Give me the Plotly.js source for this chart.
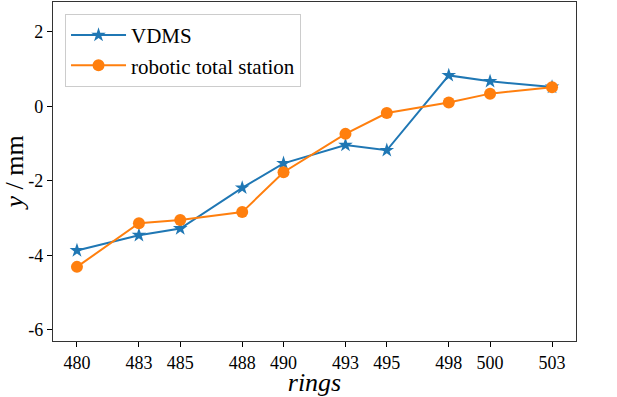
<!DOCTYPE html>
<html>
<head>
<meta charset="utf-8">
<script src="https://cdn.plot.ly/plotly-3.0.1.min.js"></script>
<style>html,body{margin:0;padding:0;background:#fff;}#chart{width:617px;height:397px;}</style>
</head>
<body>
<div id="chart"></div>
<script>
const rings = [480, 483, 485, 488, 490, 493, 495, 498, 500, 503];
const vdms = [-3.87, -3.46, -3.28, -2.19, -1.53, -1.04, -1.18, 0.83, 0.67, 0.52];
const robotic = [-4.31, -3.14, -3.05, -2.84, -1.77, -0.74, -0.18, 0.10, 0.34, 0.51];
const yTickVals = [-6, -4, -2, 0, 2];
const yTickText = ["-6", "-4", "-2", "0", "2"];

const serif = "Liberation Serif";

const traces = [
  {
    x: rings, y: vdms, name: "VDMS", type: "scatter", mode: "lines+markers",
    line: {color: "#1f77b4", width: 2},
    marker: {symbol: "star", size: 11, color: "#1f77b4"}
  },
  {
    x: rings, y: robotic, name: "robotic total station", type: "scatter", mode: "lines+markers",
    line: {color: "#ff7f0e", width: 2},
    marker: {symbol: "circle", size: 12, color: "#ff7f0e"}
  }
];

const layout = {
  width: 617, height: 397,
  margin: {l: 53, r: 41, t: 2, b: 56},
  paper_bgcolor: "#fff", plot_bgcolor: "#fff",
  font: {family: serif, color: "#000", size: 18},
  showlegend: true,
  legend: {
    x: 0.023, y: 0.965, xanchor: "left", yanchor: "top",
    bgcolor: "rgba(255,255,255,0.8)", bordercolor: "#cccccc", borderwidth: 1,
    font: {family: serif, size: 21, color: "#000"},
    itemwidth: 55,
    tracegroupgap: 0
  },
  xaxis: {
    range: [478.84, 504.16],
    tickvals: rings, ticktext: rings.map(String),
    ticks: "outside", ticklen: 5, tickwidth: 1, tickcolor: "#000",
    showline: true, linecolor: "#333", linewidth: 1.2, mirror: true,
    showgrid: false, zeroline: false,
    tickfont: {family: serif, size: 18, color: "#000"},
    title: {text: "<i>rings</i>", font: {family: serif, size: 26, color: "#000"}, standoff: 4}
  },
  yaxis: {
    range: [-6.3, 2.8],
    tickvals: yTickVals, ticktext: yTickText,
    ticks: "outside", ticklen: 5, tickwidth: 1, tickcolor: "#000",
    showline: true, linecolor: "#333", linewidth: 1.2, mirror: true,
    showgrid: false, zeroline: false,
    tickfont: {family: serif, size: 18, color: "#000"},
    title: {text: "<i>y</i> / mm", font: {family: serif, size: 26, color: "#000"}, standoff: 8}
  }
};

Plotly.newPlot("chart", traces, layout, {displayModeBar: false, staticPlot: true});
</script>
</body>
</html>
